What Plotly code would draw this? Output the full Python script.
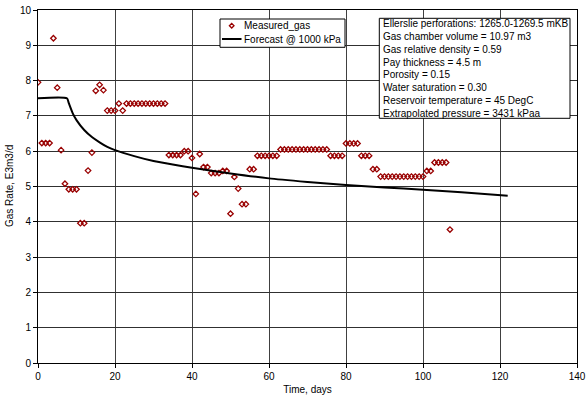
import plotly.graph_objects as go

# Measured gas rate, one reading per day
measured_days = list(range(0, 108))
measured_gas = (
    [7.95, 6.23, 6.23, 6.23, 9.2, 7.8, 6.03, 5.08, 4.92, 4.92,
     4.92, 3.96, 3.96, 5.45, 5.96, 7.71, 7.88, 7.73, 7.15, 7.15,
     7.15, 7.35, 7.15]
    + [7.35] * 11                      # days 23-33
    + [5.89] * 4                       # days 34-37
    + [6.0, 6.0, 5.81, 4.79, 5.92, 5.55, 5.55, 5.38, 5.38, 5.38,
       5.44, 5.44, 4.23, 5.27, 4.94, 4.5, 4.5, 5.49, 5.49]   # days 38-56
    + [5.87] * 6                       # days 57-62
    + [6.05] * 13                      # days 63-75
    + [5.87] * 4                       # days 76-79
    + [6.22] * 4                       # days 80-83
    + [5.87] * 3                       # days 84-86
    + [5.49, 5.49]                     # days 87-88
    + [5.28] * 12                      # days 89-100
    + [5.44, 5.44]                     # days 101-102
    + [5.68] * 4                       # days 103-106
    + [3.78]                           # day 107
)

# Forecast decline at 1000 kPa flowing pressure
forecast_days = [0, 7.5, 8, 9, 10, 12, 14, 16, 18, 20, 25, 30, 35, 40,
                 50, 60, 70, 80, 90, 100, 110, 122]
forecast_rate = [7.5, 7.5, 7.36, 7.08, 6.88, 6.6, 6.4, 6.25, 6.12, 6.03,
                 5.86, 5.72, 5.62, 5.53, 5.37, 5.23, 5.13, 5.04, 4.97,
                 4.91, 4.84, 4.74]

info_lines = [
    "Ellerslie perforations: 1265.0-1269.5 mKB",
    "Gas chamber volume = 10.97 m3",
    "Gas relative density = 0.59",
    "Pay thickness = 4.5 m",
    "Porosity = 0.15",
    "Water saturation = 0.30",
    "Reservoir temperature = 45 DegC",
    "Extrapolated pressure = 3431 kPaa",
]

series_names = ["Measured_gas", "Forecast @ 1000 kPa"]
x_ticks = [0, 20, 40, 60, 80, 100, 120, 140]
y_ticks = list(range(0, 11))

FONT = "Liberation Sans, Arial, sans-serif"
MARKER_COLOR = "#990000"

# Plot-area geometry in pixels (used to place the boxed legend and notes)
W, H = 587, 400
L, R, T, B = 38, 10, 10, 37
PW, PH = W - L - R, H - T - B


def px(x):
    return (x - L) / PW


def py(y):
    return (H - B - y) / PH


fig = go.Figure()
fig.add_trace(go.Scatter(
    x=measured_days, y=measured_gas, mode="markers", name=series_names[0],
    marker=dict(symbol="diamond-open", size=4.2, color=MARKER_COLOR,
                line=dict(width=1.3, color=MARKER_COLOR)),
    showlegend=False,
))
fig.add_trace(go.Scatter(
    x=forecast_days, y=forecast_rate, mode="lines", name=series_names[1],
    line=dict(color="black", width=2, shape="spline", smoothing=0.6),
    showlegend=False,
))

shapes = []
annotations = []

# Legend box with its two entries
shapes.append(dict(type="rect", xref="paper", yref="paper",
                   x0=px(220), x1=px(345), y0=py(47.3), y1=py(19),
                   line=dict(color="black", width=1), fillcolor="white"))
dx, dy, r = 231.7, 25.7, 2.3
shapes.append(dict(
    type="path", xref="paper", yref="paper",
    path=(f"M {px(dx - r)},{py(dy)} L {px(dx)},{py(dy - r)} "
          f"L {px(dx + r)},{py(dy)} L {px(dx)},{py(dy + r)} Z"),
    line=dict(color=MARKER_COLOR, width=1.3)))
shapes.append(dict(type="line", xref="paper", yref="paper",
                   x0=px(222), x1=px(241.5), y0=py(39), y1=py(39),
                   line=dict(color="black", width=2)))
for name, ty in zip(series_names, [25.7, 39]):
    annotations.append(dict(
        x=px(242.3), y=py(ty), xref="paper", yref="paper", xanchor="left",
        yanchor="middle", text=name, showarrow=False,
        font=dict(family=FONT, size=10, color="black")))

# Notes box with the reservoir parameters
shapes.append(dict(type="rect", xref="paper", yref="paper",
                   x0=px(379.3), x1=px(570), y0=py(118.3), y1=py(18.3),
                   line=dict(color="black", width=1), fillcolor="white"))
for i, line in enumerate(info_lines):
    annotations.append(dict(
        x=px(381.2), y=py(23.5 + 12.86 * i), xref="paper", yref="paper",
        xanchor="left", yanchor="middle", text=line, showarrow=False,
        font=dict(family=FONT, size=10, color="black")))

# Vertical axis title
annotations.append(dict(
    x=px(9), y=py(186), xref="paper", yref="paper", showarrow=False,
    text="Gas Rate, E3m3/d", textangle=-90, xanchor="center",
    yanchor="middle", font=dict(family=FONT, size=10, color="black")))

fig.update_layout(
    width=W, height=H,
    margin=dict(l=L, r=R, t=T, b=B),
    paper_bgcolor="white", plot_bgcolor="white",
    font=dict(family=FONT, size=10, color="black"),
    showlegend=False,
    shapes=shapes, annotations=annotations,
    xaxis=dict(
        range=[0, 140], tickvals=x_ticks, ticks="outside", ticklen=4,
        tickcolor="black", showgrid=True, gridcolor="#404040", gridwidth=1,
        showline=True, linecolor="black", linewidth=1, mirror=True,
        zeroline=False, automargin=False,
        title=dict(text="Time, days", standoff=4,
                   font=dict(family=FONT, size=10, color="black")),
        tickfont=dict(size=10),
    ),
    yaxis=dict(
        range=[0, 10], tickvals=y_ticks, ticks="outside", ticklen=4,
        tickcolor="black", showgrid=True, gridcolor="#303030", gridwidth=1,
        showline=True, linecolor="black", linewidth=1, mirror=True,
        zeroline=False, automargin=False, tickfont=dict(size=10),
    ),
)

fig.write_html("out.html")
